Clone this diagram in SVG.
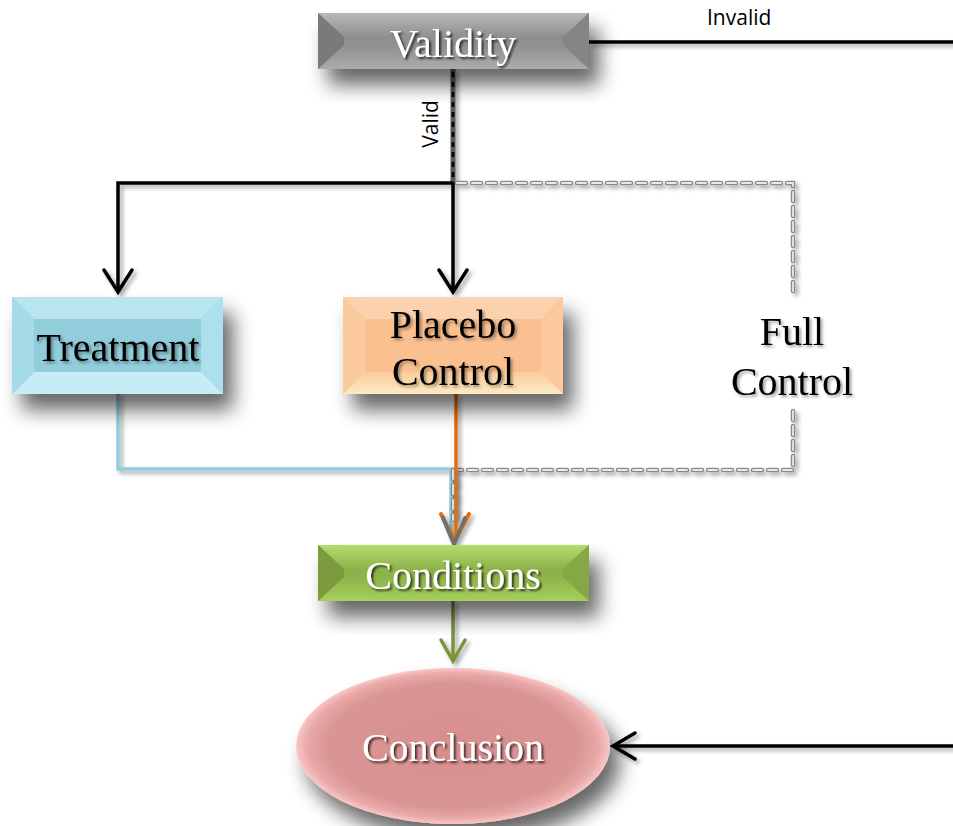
<svg xmlns="http://www.w3.org/2000/svg" width="953" height="826" viewBox="0 0 953 826">
  <defs>
    <style>
      .serif { font-family: "Liberation Serif", "Times New Roman", serif; font-size: 40px; text-anchor: middle; }
      .light { fill: #ffffff; filter: url(#textShadowDark); }
      .dark { fill: #000000; filter: url(#textShadowSoft); }
      .sans { font-family: "Open Sans", "Liberation Sans", sans-serif; font-size: 21px; fill: #000000; }
      .black { fill: none; stroke: #000000; stroke-width: 3.5; stroke-linejoin: miter; }
      .head { fill: none; stroke: #000000; stroke-width: 3.5; stroke-linecap: round; stroke-linejoin: miter; }
      .dashOuter { fill: none; stroke: #8a8a8a; stroke-width: 4.5; stroke-dasharray: 9 6; stroke-linecap: round; }
      .dashInner { fill: none; stroke: #e8e8e8; stroke-width: 1.8; stroke-dasharray: 9 6; stroke-linecap: round; }
    </style>
    <filter id="boxShadow" x="-20%" y="-30%" width="150%" height="190%">
      <feGaussianBlur in="SourceAlpha" stdDeviation="10"/>
      <feOffset dx="10" dy="16" result="b"/>
      <feComponentTransfer><feFuncA type="linear" slope="0.6"/></feComponentTransfer>
      <feMerge><feMergeNode/><feMergeNode in="SourceGraphic"/></feMerge>
    </filter>
    <!-- user-space region so straight vertical/horizontal lines keep their shadow -->
    <filter id="lineShadow" filterUnits="userSpaceOnUse" x="0" y="0" width="953" height="826">
      <feDropShadow dx="3" dy="3" stdDeviation="2" flood-color="#000" flood-opacity="0.35"/>
    </filter>
    <filter id="textShadowDark" x="-10%" y="-20%" width="120%" height="150%">
      <feDropShadow dx="2" dy="2" stdDeviation="1.2" flood-color="#000" flood-opacity="0.7"/>
    </filter>
    <filter id="textShadowSoft" x="-10%" y="-20%" width="120%" height="150%">
      <feDropShadow dx="2" dy="2" stdDeviation="1.5" flood-color="#000" flood-opacity="0.4"/>
    </filter>
    <linearGradient id="gTopGray" x1="0" y1="0" x2="0" y2="1"><stop offset="0" stop-color="#b8b8b8"/><stop offset="1" stop-color="#8f8f8f"/></linearGradient>
    <linearGradient id="gBotGray" x1="0" y1="0" x2="0" y2="1"><stop offset="0" stop-color="#8f8f8f"/><stop offset="1" stop-color="#acacac"/></linearGradient>
    <linearGradient id="gTopGreen" x1="0" y1="0" x2="0" y2="1"><stop offset="0" stop-color="#b2de6e"/><stop offset="1" stop-color="#8db24a"/></linearGradient>
    <linearGradient id="gBotGreen" x1="0" y1="0" x2="0" y2="1"><stop offset="0" stop-color="#8db24a"/><stop offset="1" stop-color="#a6d05c"/></linearGradient>
    <linearGradient id="gBotPeach" x1="0" y1="0" x2="0" y2="1"><stop offset="0" stop-color="#fbcb9c"/><stop offset="1" stop-color="#fdeac2"/></linearGradient>
    <radialGradient id="gPink" cx="0.5" cy="0.5" r="0.5">
      <stop offset="0" stop-color="#d78f8e"/>
      <stop offset="0.8" stop-color="#d99594"/>
      <stop offset="0.93" stop-color="#e9a9a9"/>
      <stop offset="1" stop-color="#fbc6c6"/>
    </radialGradient>
  </defs>

  <rect width="953" height="826" fill="#ffffff"/>

  <!-- connectors -->
  <g id="connectors">
    <!-- Invalid path: out the right, back in to Conclusion -->
    <g filter="url(#lineShadow)">
      <line x1="589" y1="42" x2="953" y2="42" class="black"/>
      <line x1="953" y1="746" x2="614" y2="746" class="black"/>
      <polyline points="635,733 613,746 635,759" class="head"/>
    </g>
    <text x="707" y="25" class="sans">Invalid</text>

    <!-- Valid branch -->
    <g filter="url(#lineShadow)">
      <line x1="453" y1="69" x2="453" y2="183" stroke="#5a5a5a" stroke-width="5"/>
      <line x1="453" y1="72" x2="453" y2="183" stroke="#000" stroke-width="2.5" stroke-dasharray="5 5"/>
    </g>
    <text transform="translate(438,124) rotate(-90)" class="sans" text-anchor="middle">Valid</text>

    <g filter="url(#lineShadow)">
      <polyline points="453,183 118,183 118,291" class="black"/>
      <polyline points="104,270 118,292 132,270" class="head"/>
      <line x1="453" y1="183" x2="453" y2="291" class="black"/>
      <polyline points="439,270 453,292 467,270" class="head"/>
    </g>

    <!-- Full Control dashed loop -->
    <g filter="url(#lineShadow)">
      <path d="M457 183 H793 V296 M793 411 V470 H455 V520" class="dashOuter"/>
      <path d="M457 183 H793 V296 M793 411 V470 H455 V520" class="dashInner"/>
    </g>

    <!-- Treatment to Conditions -->
    <g filter="url(#lineShadow)">
      <polyline points="118,393 118,469 451,469 451,538" fill="none" stroke="#93cddd" stroke-width="3.5"/>
    </g>
    <!-- Placebo Control to Conditions -->
    <g filter="url(#lineShadow)">
      <line x1="456" y1="394" x2="456" y2="538" stroke="#e46c0a" stroke-width="3.5"/>
      <line x1="453" y1="470" x2="453" y2="520" class="dashOuter"/>
      <line x1="453" y1="470" x2="453" y2="520" class="dashInner"/>
      <polyline points="441,514 455,541 469,514" fill="none" stroke="#e46c0a" stroke-width="4" stroke-linecap="round"/>
      <polyline points="443,518 454,544 465,518" fill="none" stroke="#707070" stroke-width="4" stroke-linecap="round"/>
    </g>

    <!-- Conditions to Conclusion -->
    <g filter="url(#lineShadow)">
      <line x1="453" y1="601" x2="453" y2="660" stroke="#77933c" stroke-width="3.5"/>
      <polyline points="441,640 453,661 465,640" fill="none" stroke="#77933c" stroke-width="3.5" stroke-linecap="round"/>
    </g>

    <!-- Full Control label -->
    <text x="792" y="345" class="serif dark">Full</text>
    <text x="792" y="395" class="serif dark">Control</text>
  </g>

  <!-- Validity -->
  <g id="validity">
    <g filter="url(#boxShadow)">
      <rect x="318" y="13" width="271" height="56" fill="#8f8f8f"/>
    </g>
    <polygon points="318,13 589,13 563,37 344,37" fill="url(#gTopGray)"/>
    <polygon points="318,69 589,69 563,45 344,45" fill="url(#gBotGray)"/>
    <rect x="344" y="37" width="219" height="8" fill="#8f8f8f"/>
    <polygon points="318,13 344,37 344,45 318,69" fill="#7a7a7a"/>
    <polygon points="589,13 563,37 563,45 589,69" fill="#858585"/>
    <text x="453" y="57" class="serif light">Validity</text>
  </g>

  <!-- Treatment -->
  <g id="treatment">
    <g filter="url(#boxShadow)">
      <rect x="12" y="297" width="211" height="97" fill="#92cddc"/>
    </g>
    <polygon points="12,297 223,297 201,319 34,319" fill="#b8e5f0"/>
    <polygon points="12,394 223,394 201,372 34,372" fill="#c6edf6"/>
    <polygon points="12,297 34,319 34,372 12,394" fill="#a5dae8"/>
    <polygon points="223,297 201,319 201,372 223,394" fill="#aedfec"/>
    <rect x="34" y="319" width="167" height="53" fill="#92cddc"/>
    <text x="118" y="361" class="serif dark">Treatment</text>
  </g>

  <!-- Placebo Control -->
  <g id="placebo">
    <g filter="url(#boxShadow)">
      <rect x="343" y="297" width="220" height="97" fill="#fac090"/>
    </g>
    <polygon points="343,297 563,297 541,319 365,319" fill="#fcd2ae"/>
    <polygon points="343,394 563,394 541,372 365,372" fill="url(#gBotPeach)"/>
    <polygon points="343,297 365,319 365,372 343,394" fill="#fbcb9f"/>
    <polygon points="563,297 541,319 541,372 563,394" fill="#fbc99d"/>
    <rect x="365" y="319" width="176" height="53" fill="#fac090"/>
    <text x="453" y="338" class="serif dark">Placebo</text>
    <text x="453" y="385" class="serif dark">Control</text>
  </g>

  <!-- Conditions -->
  <g id="conditions">
    <g filter="url(#boxShadow)">
      <rect x="318" y="545" width="271" height="56" fill="#8db24a"/>
    </g>
    <polygon points="318,545 589,545 563,569 344,569" fill="url(#gTopGreen)"/>
    <polygon points="318,601 589,601 563,577 344,577" fill="url(#gBotGreen)"/>
    <rect x="344" y="569" width="219" height="8" fill="#8db24a"/>
    <polygon points="318,545 344,569 344,577 318,601" fill="#7c9b3e"/>
    <polygon points="589,545 563,569 563,577 589,601" fill="#86a744"/>
    <text x="453" y="589" class="serif light">Conditions</text>
  </g>

  <!-- Conclusion -->
  <g id="conclusion">
    <g filter="url(#boxShadow)">
      <ellipse cx="453" cy="746" rx="157" ry="78" fill="url(#gPink)"/>
    </g>
    <text x="453" y="761" class="serif light">Conclusion</text>
  </g>
</svg>
